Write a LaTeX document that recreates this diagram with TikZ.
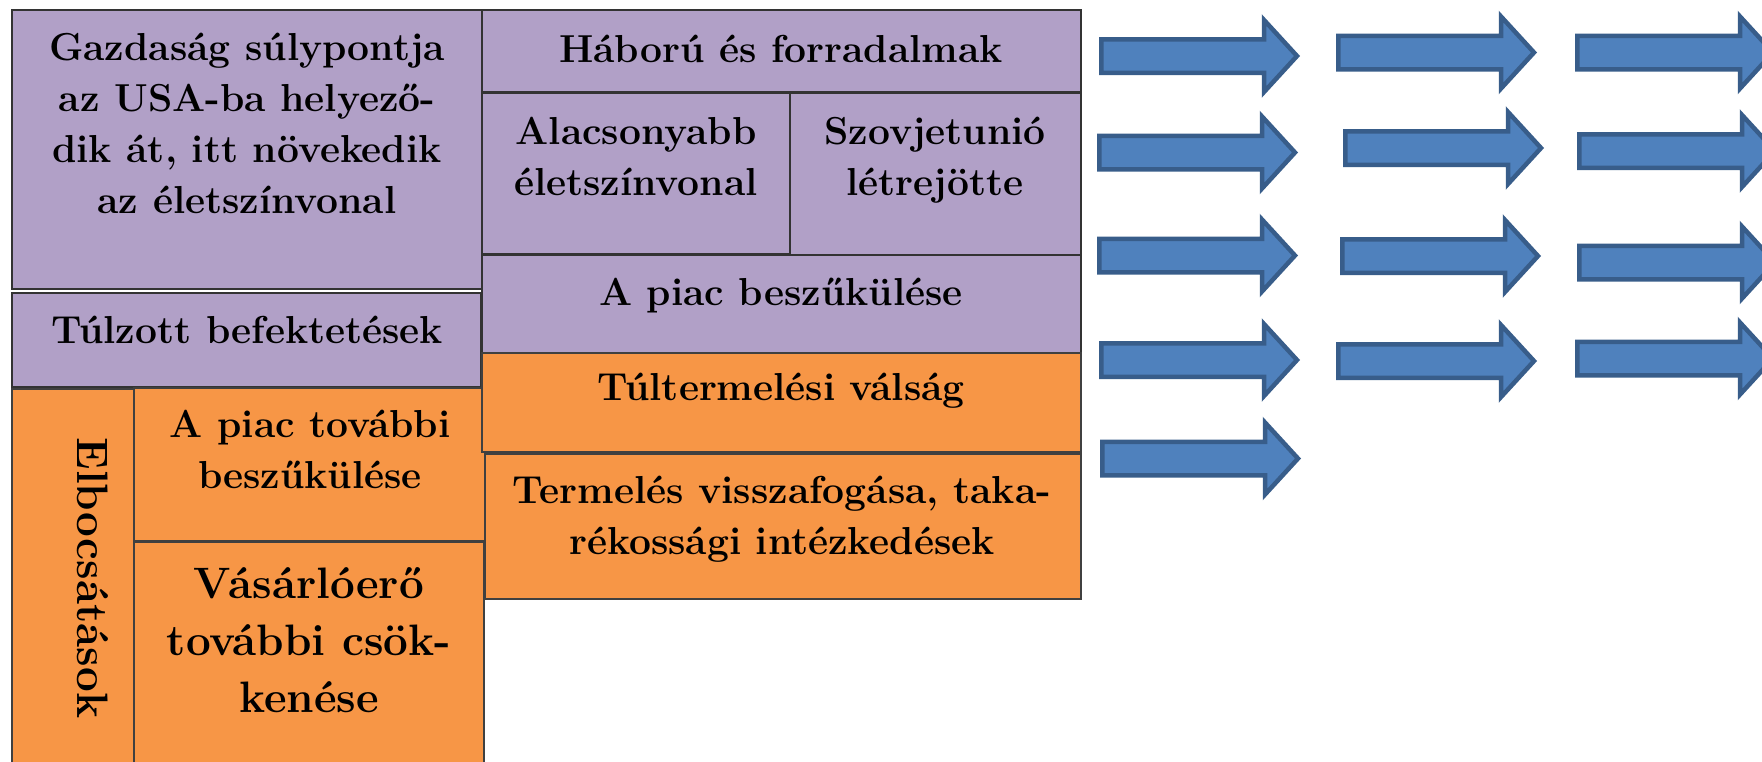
\documentclass[tikz,border=0pt]{standalone}
\usepackage{tikz}
\usepackage{xcolor}
\definecolor{lilacfill}{HTML}{B1A0C7}
\definecolor{amberfill}{HTML}{F79646}
\definecolor{arrowfill}{HTML}{4F81BD}
\definecolor{arrowline}{HTML}{385D8A}
\tikzset{
  lilac/.style={draw=black!80, line width=1.2pt, fill=lilacfill},
  amber/.style={draw=black!75, line width=1.2pt, fill=amberfill},
  blockarrow/.style={draw=arrowline, fill=arrowfill, line width=4.5pt},
  lab/.style={font=\fontsize{39}{51}\selectfont\bfseries, align=center, inner sep=0pt, anchor=base},
  biglab/.style={font=\fontsize{44}{57}\selectfont\bfseries, align=center, inner sep=0pt}
}

\begin{document}
\begin{tikzpicture}[x=1pt,y=-1pt]
\clip (0,0) rectangle (1762,761);

% Left column (multi-line labels sit on their last baseline)
\draw[lilac] (12,10) rectangle (482,289);
\node[lab] (econ) at (247,213) {Gazdaság súlypontja\\az USA-ba helyező-\\dik át, itt növekedik\\az életszínvonal};
\draw[lilac] (12,293) rectangle (481,387);
\node[lab] (invest) at (247,343) {Túlzott befektetések};
\draw[amber] (12,389) rectangle (134,770);
\node[biglab, rotate=-90] (layoffs) at (93,578) {Elbocsátások};
\draw[amber] (134,388) rectangle (485,541);
\node[lab] (market2) at (310,488) {A piac további\\beszűkülése};
\draw[amber] (134,542) rectangle (484,770);
\node[biglab, anchor=base] (power) at (309,712) {Vásárlóerő\\további csök-\\kenése};

% Middle column
\draw[lilac] (482,10) rectangle (1081,92);
\node[lab] (war) at (781,62) {Háború és forradalmak};
\draw[lilac] (482,93) rectangle (790,254);
\node[lab] (living) at (636,195) {Alacsonyabb\\életszínvonal};
\draw[lilac] (790,93) rectangle (1081,255);
\node[lab] (soviet) at (935,195) {Szovjetunió\\létrejötte};
\draw[lilac] (482,255) rectangle (1081,353);
\node[lab] (market) at (781,305) {A piac beszűkülése};
\draw[amber] (482,353) rectangle (1081,452);
\node[lab] (overprod) at (781,400) {Túltermelési válság};
\draw[amber] (485,454) rectangle (1081,599);
\node[lab] (cutback) at (782,554) {Termelés visszafogása, taka-\\rékossági intézkedések};

% Block arrows
\foreach \ax/\ay in {1099/56, 1097/152.5, 1097/255.5, 1099/360, 1100/458.5,
                     1336/52.5, 1343/148, 1340/256, 1336/361,
                     1575/52.5, 1577/151, 1577/262.5, 1575/358.5}{
  \draw[blockarrow] (\ax+2.25,\ay-16.75) -- (\ax+165,\ay-16.75) -- (\ax+165,\ay-36)
    -- (\ax+198,\ay) -- (\ax+165,\ay+36) -- (\ax+165,\ay+16.75) -- (\ax+2.25,\ay+16.75) -- cycle;
}
\end{tikzpicture}
\end{document}
